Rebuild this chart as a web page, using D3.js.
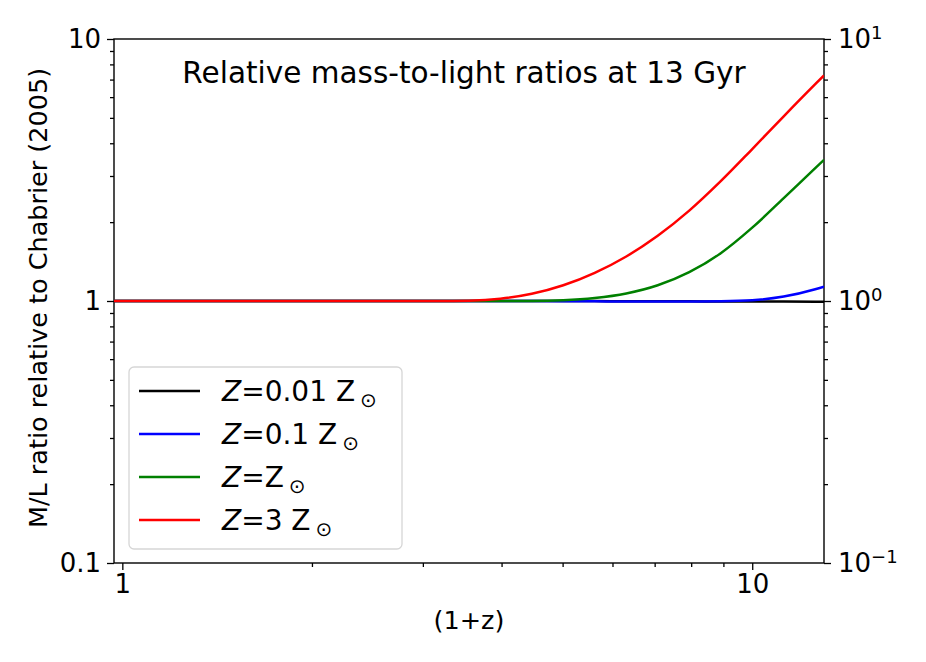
<!DOCTYPE html>
<html>
<head>
<meta charset="utf-8">
<script src="https://cdn.jsdelivr.net/npm/d3@7"></script>
<style>
  body { margin: 0; background: #fff; }
  text { font-family: "DejaVu Sans", sans-serif; fill: #000; }
</style>
</head>
<body>
<div class="chart"></div>
<script>
// (1+z) sample points
var xVals   = [0.97, 1.585, 2.512, 3.162, 3.548, 3.981, 4.467, 5.012, 5.623, 6.31, 7.079, 7.943, 8.913, 10.0, 11.22, 12.59, 13.0];
// relative M/L for each metallicity
var zLow    = [1.0, 1.0, 1.0, 1.0, 1.0, 1.0, 1.0, 0.999, 0.999, 0.998, 0.998, 0.997, 0.996, 0.995, 0.995, 0.994, 0.993];
var zTenth  = [1.0, 1.0, 1.0, 1.0, 1.0, 0.999, 0.999, 0.998, 0.997, 0.996, 0.996, 0.996, 0.998, 1.007, 1.040, 1.109, 1.135];
var zSolar  = [1.0, 1.0, 1.0, 1.0, 1.0, 1.0, 1.0, 1.006, 1.026, 1.068, 1.148, 1.288, 1.522, 1.905, 2.469, 3.217, 3.459];
var zThree  = [1.0, 1.0, 1.0, 1.0, 1.003, 1.020, 1.065, 1.148, 1.281, 1.479, 1.774, 2.213, 2.867, 3.802, 5.070, 6.722, 7.26];

var seriesNames  = ["0.01 ", "0.1 ", "", "3 "];
var seriesColors = ["black", "blue", "green", "red"];
var seriesData   = [zLow, zTenth, zSolar, zThree];

var leftTickLabels  = ["0.1", "1", "10"];
var rightTickExps   = ["\u22121", "0", "1"];
var xTickLabels     = ["1", "10"];

var svgWidth = 926, svgHeight = 662;
var margin = { top: 39, left: 114, right: 102, bottom: 99 };
var width = svgWidth - margin.left - margin.right;
var height = svgHeight - margin.top - margin.bottom;

var svg = d3.select(".chart").append("svg")
  .attr("width", svgWidth)
  .attr("height", svgHeight);

var chartGroup = svg.append("g")
  .attr("transform", `translate(${margin.left}, ${margin.top})`);

var xScale = d3.scaleLog().domain([0.97, 13]).range([0, width]);
var yScale = d3.scaleLog().domain([0.1, 10]).range([height, 0]);

// minor tick values
var xMinor = [], yMinor = [];
[1, 10].forEach(function(d) {
  for (var i = 2; i <= 9; i++) if (d * i <= 13) xMinor.push(d * i);
});
[0.1, 1].forEach(function(d) {
  for (var i = 2; i <= 9; i++) yMinor.push(+(d * i).toFixed(2));
});

function styleAxis(g) {
  g.select(".domain").remove();
  g.selectAll("line").attr("stroke", "#000").attr("stroke-width", 1.3);
  g.selectAll("text").style("font-size", "26px");
}

// bottom axis
var xAxisG = chartGroup.append("g").attr("transform", `translate(0, ${height})`);
xAxisG.append("g")
  .call(d3.axisBottom(xScale).tickValues(xMinor).tickSize(4).tickFormat(""))
  .call(styleAxis);
xAxisG.append("g")
  .call(d3.axisBottom(xScale).tickValues([1, 10]).tickSize(7).tickPadding(5)
    .tickFormat(function(d, i) { return xTickLabels[i]; }))
  .call(styleAxis);

// left axis
var yAxisG = chartGroup.append("g");
yAxisG.append("g")
  .call(d3.axisLeft(yScale).tickValues(yMinor).tickSize(4).tickFormat(""))
  .call(styleAxis);
yAxisG.append("g")
  .call(d3.axisLeft(yScale).tickValues([0.1, 1, 10]).tickSize(7).tickPadding(6)
    .tickFormat(function(d, i) { return leftTickLabels[i]; }))
  .call(styleAxis);

// right axis
var rAxisG = chartGroup.append("g").attr("transform", `translate(${width}, 0)`);
rAxisG.append("g")
  .call(d3.axisRight(yScale).tickValues(yMinor).tickSize(4).tickFormat(""))
  .call(styleAxis);
var rMajor = rAxisG.append("g")
  .call(d3.axisRight(yScale).tickValues([0.1, 1, 10]).tickSize(7).tickPadding(6).tickFormat(""))
  .call(styleAxis);
rMajor.selectAll(".tick").each(function(d, i) {
  var t = d3.select(this).append("text")
    .attr("x", 14).attr("dy", "0.32em")
    .style("font-size", "26px");
  t.append("tspan").text("10");
  t.append("tspan").attr("dy", "-0.5em").style("font-size", "18px").text(rightTickExps[i]);
});

// frame
chartGroup.append("rect")
  .attr("width", width).attr("height", height)
  .attr("fill", "none").attr("stroke", "#000").attr("stroke-width", 1.4);

// lines
var line = d3.line()
  .x(function(d) { return xScale(d[0]); })
  .y(function(d) { return yScale(d[1]); })
  .curve(d3.curveMonotoneX);

chartGroup.append("clipPath").attr("id", "clip")
  .append("rect").attr("width", width).attr("height", height);

seriesData.forEach(function(vals, k) {
  chartGroup.append("path")
    .datum(xVals.map(function(x, i) { return [x, vals[i]]; }))
    .attr("clip-path", "url(#clip)")
    .attr("d", line)
    .attr("fill", "none")
    .attr("stroke", seriesColors[k])
    .attr("stroke-width", 2.5);
});

// title
chartGroup.append("text")
  .attr("x", 350).attr("y", 44)
  .attr("text-anchor", "middle")
  .style("font-size", "29.5px")
  .text("Relative mass-to-light ratios at 13 Gyr");

// axis labels
chartGroup.append("text")
  .attr("x", 355).attr("y", height + 66)
  .attr("text-anchor", "middle")
  .style("font-size", "25.5px")
  .text("(1+z)");

chartGroup.append("text")
  .attr("transform", "rotate(-90)")
  .attr("x", -(height / 2) + 3).attr("y", -67)
  .attr("text-anchor", "middle")
  .style("font-size", "25.5px")
  .text("M/L ratio relative to Chabrier (2005)");

// legend
var legend = chartGroup.append("g").attr("transform", "translate(15, 328)");
legend.append("rect")
  .attr("width", 273).attr("height", 182).attr("rx", 5)
  .attr("fill", "#fff").attr("fill-opacity", 0.8)
  .attr("stroke", "#d6d6d6").attr("stroke-width", 1.3);

seriesNames.forEach(function(name, i) {
  var row = legend.append("g").attr("transform", `translate(0, ${24 + i * 43})`);
  row.append("line")
    .attr("x1", 10).attr("x2", 71)
    .attr("stroke", seriesColors[i]).attr("stroke-width", 2.5);
  var t = row.append("text").attr("x", 93).attr("dy", "0.35em").style("font-size", "28px");
  t.append("tspan").style("font-style", "italic").text("Z");
  t.append("tspan").text("=" + name + "Z");
  t.append("tspan").attr("dx", "5").attr("dy", "0.3em").style("font-size", "20px").text("\u2299");
});
</script>
</body>
</html>
